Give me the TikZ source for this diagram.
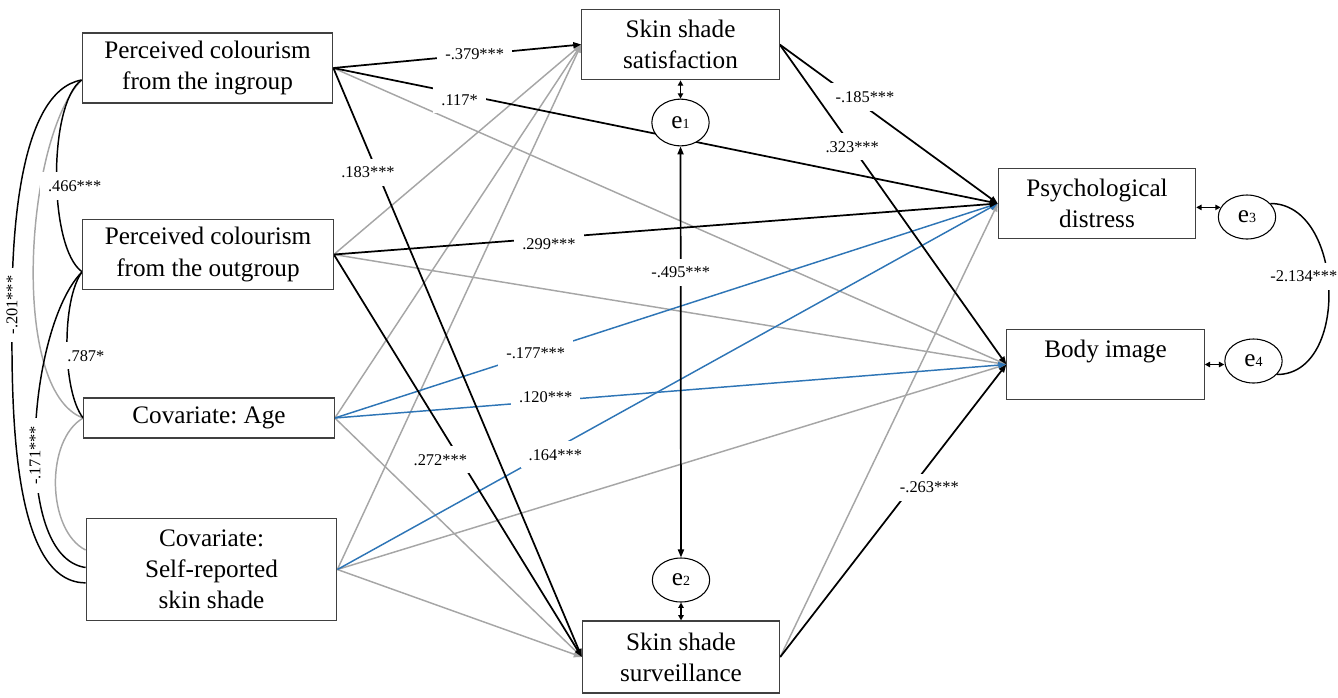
\documentclass[tikz,border=0pt]{standalone}
\usepackage{fontspec}
\setmainfont{Liberation Serif}
\frenchspacing
\usetikzlibrary{arrows.meta,positioning,shapes.geometric,backgrounds}
\definecolor{pathgray}{HTML}{A6A6A6}
\definecolor{pathblue}{HTML}{2E75B6}
\definecolor{boxgray}{HTML}{404040}
\newcommand{\varfont}{\fontsize{18.9}{23.3}\selectfont}
\newcommand{\coeffont}{\fontsize{12.3}{14}\selectfont}
\newcommand{\idxfont}{\fontsize{10.5}{12}\selectfont}
\tikzset{
  var/.style={rectangle, draw=boxgray, fill=white, line width=0.8pt, align=center, inner sep=0pt, font=\varfont},
  wide var/.style={var, minimum width=188pt, minimum height=53pt},
  narrow var/.style={var, minimum width=148pt, minimum height=53pt},
  err/.style={ellipse, draw=black, fill=white, line width=0.8pt, minimum width=43pt, minimum height=33pt, inner sep=0pt, font=\varfont},
  sig/.style={-{Triangle[length=6pt,width=4.5pt]}, draw=black, line width=1.3pt},
  ns/.style={-{Triangle[length=6pt,width=4.5pt]}, draw=pathgray, line width=1.1pt},
  blue path/.style={-{Triangle[length=6pt,width=4.5pt]}, draw=pathblue, line width=1.1pt},
  twoway/.style={{Triangle[length=4pt,width=4pt]}-{Triangle[length=4pt,width=4pt]}, draw=black, line width=1.1pt},
  long twoway/.style={{Triangle[length=6pt,width=4.5pt]}-{Triangle[length=6pt,width=4.5pt]}, draw=black, line width=1.3pt},
  cov/.style={draw=black, line width=1.1pt},
  cov ns/.style={draw=pathgray, line width=1.1pt},
  coef/.style={fill=white, inner xsep=6pt, inner ysep=6pt, font=\coeffont}
}

\begin{document}
\begin{tikzpicture}[x=7.5pt, y=7.5pt]
  \useasboundingbox (0,0) rectangle (133.8,-69.7);

  % observed variables
  \node[wide var, minimum height=52.5pt] (ingroup) at (20.75,-6.8) {Perceived colourism\\from the ingroup};
  \node[wide var] (outgroup) at (20.8,-25.45) {Perceived colourism\\from the outgroup};
  \node[wide var, minimum height=30pt] (age) at (20.9,-41.8) {Covariate: Age};
  \node[wide var, minimum height=76pt] (self) at (21.15,-56.95) {Covariate:\\Self-reported\\skin shade};
  \node[narrow var] (satis) at (68.05,-4.45) {Skin shade\\satisfaction};
  \node[narrow var, minimum height=54pt] (surv) at (68.1,-65.7) {Skin shade\\surveillance};
  \node[narrow var] (distress) at (109.7,-20.35) {Psychological\\distress};
  \node[narrow var] (body) at (110.55,-36.45) {Body image\\ \mbox{}};

  % error terms
  \node[err, minimum height=35pt] (e1) at (68.05,-12.25) {e{\idxfont 1}};
  \node[err] (e2) at (68.1,-58.0) {e{\idxfont 2}};
  \node[err] (e3) at (124.7,-21.7) {e{\idxfont 3}};
  \node[err] (e4) at (125.35,-36.1) {e{\idxfont 4}};

  \coordinate (c201) at (1.2,-30.5);

  \begin{pgfonlayer}{background}
  % covariances of the predictors
  \draw[cov ns] ([yshift=-9pt]ingroup.west) to[out=225, in=160, looseness=0.6] (age.west);
  \draw[cov ns] (age.west) to[out=210, in=153, looseness=0.85] ([yshift=14.6pt]self.west);
  \draw[cov] ([yshift=-9pt]ingroup.west) to[out=215, in=145, looseness=0.55] node[coef, pos=0.54, xshift=13.5pt] {.466***} ([yshift=-13pt]outgroup.west);
  \draw[cov] ([yshift=-13pt]outgroup.west) to[out=233, in=128, looseness=0.6] node[coef, pos=0.56, xshift=14pt] {.787*} (age.west);
  \draw[cov] ([yshift=-13pt]outgroup.west) to[out=225, in=172, looseness=0.66] node[coef, pos=0.55, rotate=90] {-.171***} ([yshift=1.5pt]self.west);
  \draw[cov] ([yshift=-9pt]ingroup.west) to[out=190, in=90, looseness=0.7] (c201) node[coef, rotate=90] {-.201***} to[out=270, in=180, looseness=0.7] ([yshift=-10pt]self.west);

  % non-significant paths
  \draw[ns] (ingroup.east) -- (body.west);
  \draw[ns] (outgroup.east) -- (satis.west);
  \draw[ns] (outgroup.east) -- (body.west);
  \draw[ns] (age.east) -- (satis.west);
  \draw[ns] (age.east) -- (surv.west);
  \draw[ns] (self.east) -- (satis.west);
  \draw[ns] (self.east) -- (body.west);
  \draw[ns] (self.east) -- (surv.west);
  \draw[ns] (surv.east) -- (distress.west);

  % covariate paths
  \draw[blue path] (age.east) -- node[coef, pos=0.303] {-.177***} (distress.west);
  \draw[blue path] (age.east) -- node[coef, pos=0.314, yshift=3pt] {.120***} (body.west);
  \draw[blue path] (self.east) -- node[coef, pos=0.33, yshift=-4.5pt] {.164***} (distress.west);

  % significant paths
  \draw[sig] (ingroup.east) -- node[coef, pos=0.57] {-.379***} (satis.west);
  \draw[sig] (ingroup.east) -- node[coef, pos=0.19, yshift=-4.5pt] {.117*} (distress.west);
  \draw[sig] (ingroup.east) -- node[coef, pos=0.177, xshift=-7pt] {.183***} (surv.west);
  \draw[sig] (outgroup.east) -- node[coef, pos=0.324, yshift=-4.5pt] {.299***} (distress.west);
  \draw[sig] (outgroup.east) -- node[coef, pos=0.51, xshift=-15pt] {.272***} (surv.west);
  \draw[sig] (satis.east) -- node[coef, pos=0.33, xshift=10pt] {-.185***} (distress.west);
  \draw[sig] (satis.east) -- node[coef, pos=0.32] {.323***} (body.west);
  \draw[sig] (surv.east) -- node[coef, pos=0.58, xshift=13.5pt] {-.263***} (body.west);

  % residuals
  \draw[twoway] (e1) -- (satis);
  \draw[twoway] (e2) -- (surv);
  \draw[long twoway] (e1) -- node[coef, pos=0.306] {-.495***} (e2);
  \draw[twoway] (e3.160) -- (e3.160 -| distress.east);
  \draw[twoway] (body.east) -- (body.east -| e4.west);
  \draw[cov] (e3.30) to[out=0, in=0, looseness=1.1] node[coef, pos=0.45, xshift=-18pt] {-2.134***} (e4.-30);
  \end{pgfonlayer}
\end{tikzpicture}
\end{document}
